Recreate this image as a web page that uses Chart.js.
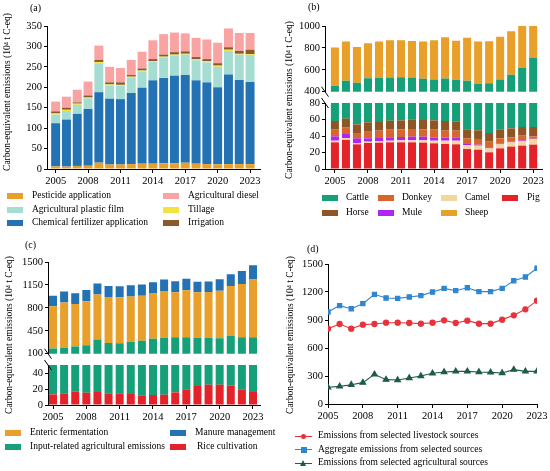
<!DOCTYPE html>
<html>
<head>
<meta charset="utf-8">
<script src="https://cdn.jsdelivr.net/npm/chart.js@4.4.0/dist/chart.umd.min.js"></script>
<style>
body{margin:0;width:550px;height:471px;position:relative;background:#fff;overflow:hidden;font-family:"Liberation Serif","Times New Roman",serif;color:#000}
canvas{position:absolute}
.pl{position:absolute;font-size:10px;line-height:1}
.yt{position:absolute;font-size:9.5px;white-space:nowrap;line-height:1;transform:translate(-50%,-50%) rotate(-90deg)}
.lg{position:absolute;font-size:9.5px;white-space:nowrap;line-height:1}
.sw{position:absolute;width:16px;height:6px}
</style>
</head>
<body>
<canvas id="ca" width="275" height="195" style="left:0;top:0;width:275px;height:195px"></canvas>
<canvas id="cb1" width="275" height="100" style="left:275px;top:0;width:275px;height:100px"></canvas>
<canvas id="cb2" width="275" height="102" style="left:275px;top:93px;width:275px;height:102px"></canvas>
<canvas id="cc1" width="275" height="126" style="left:0;top:236px;width:275px;height:126px"></canvas>
<canvas id="cc2" width="275" height="76" style="left:0;top:355px;width:275px;height:76px"></canvas>
<canvas id="cd" width="275" height="190" style="left:275px;top:240px;width:275px;height:190px"></canvas>

<div class="pl" style="left:30px;top:3px">(a)</div>
<div class="pl" style="left:308px;top:2px">(b)</div>
<div class="pl" style="left:25px;top:240px">(c)</div>
<div class="pl" style="left:307px;top:244px">(d)</div>

<div class="yt" style="left:8px;top:92px">Carbon-equivalent emissions (10⁴ t C-eq)</div>
<div class="yt" style="left:290px;top:100px">Carbon-equivalent emissions (10⁴ t C-eq)</div>
<div class="yt" style="left:10px;top:335px">Carbon-equivalent emissions (10⁴ t C-eq)</div>
<div class="yt" style="left:291px;top:335px">Carbon-equivalent emissions (10⁴ t C-eq)</div>

<div id="legends"></div>

<script>
// years and x ticks
const years = [2005, 2006, 2007, 2008, 2009, 2010, 2011, 2012, 2013, 2014, 2015, 2016, 2017, 2018, 2019, 2020, 2021, 2022, 2023];
const xTickYears = [2005, 2008, 2011, 2014, 2017, 2020, 2023];

// (a) agricultural inputs
const pesticide   = [6.5, 6, 7.5, 8, 15.5, 11, 11, 12, 13, 13, 14, 14, 15.5, 13, 12, 11.5, 12, 12, 12];
const fertilizer  = [105.5, 115, 127.5, 139, 172.5, 161, 160, 174, 186, 204, 209, 214, 214.5, 204, 200, 188.5, 219, 206, 201];
const plasticFilm = [21, 21, 22, 26, 71, 32, 33, 37, 40, 45, 49, 49, 50, 49, 49, 50, 58, 62, 66];
const tillage     = [3, 3, 3, 2, 3, 3, 2, 3, 2, 2, 3, 3, 2, 3, 3, 3, 3, 2, 2];
const irrigation  = [5, 5, 3, 5, 5, 5, 6, 4, 5, 5, 5, 6, 6, 5, 5, 6, 6, 7, 11];
const diesel      = [24, 27, 31, 34, 35, 38, 35, 37, 41, 46, 50, 48, 44, 47, 48, 50, 46, 44, 41];
const aTicks = [0, 50, 100, 150, 200, 250, 300, 350];

// (b) livestock
const pig    = [32.3, 35.2, 29.9, 31.5, 31.9, 32.3, 32.3, 32.3, 31.9, 31.1, 30.3, 29.9, 24.2, 23.4, 20.2, 25, 27.1, 28.3, 29.5];
const camel  = [2, 2.4, 1.6, 1.6, 1.6, 2, 2.4, 2.4, 2.8, 3.2, 4, 4.4, 4.9, 4.9, 4.8, 4.9, 5.2, 5.2, 6.5];
const mule   = [5.3, 4.8, 5.7, 4.1, 4.1, 4.1, 4.1, 4.5, 4.5, 3.7, 3.7, 3.7, 1.2, 1.2, 1.3, 0.8, 0.8, 1.2, 0.8];
const donkey = [8.1, 7.7, 6.4, 8.8, 8.9, 9.3, 9.3, 9.3, 8.9, 9.7, 8.5, 8.5, 6.9, 6.9, 6.8, 6.5, 5.3, 5.7, 2.8];
const horse  = [10.5, 10.9, 10.5, 10.6, 10.5, 10.9, 10.9, 11.3, 11.3, 11.3, 11.7, 10.9, 10.5, 10.5, 10.5, 10.5, 10.9, 10.5, 11.3];
const cattle = [396, 439, 427, 467, 467, 471, 474, 470, 459, 453, 463, 452, 452, 425, 434, 464, 505, 566, 656];
const sheep  = [350, 358, 326, 319, 334, 340, 337, 334, 340, 358, 376, 355, 394, 386, 383, 391, 398, 397, 400];
const bTopTicks = [400, 600, 800, 1000];
const bLowTicks = [0, 20, 40, 60, 80];

// (c) by source
const rice          = [13.3, 14.2, 17.1, 15.4, 16.3, 14.2, 14.2, 13.8, 11.7, 12.5, 12.9, 15.8, 19.2, 23.8, 25.4, 25.4, 24.6, 19.2, 16.3];
const inputRelated  = [165, 177, 194, 214, 302, 250, 247, 267, 287, 315, 330, 334, 332, 321, 317, 309, 344, 333, 333];
const enteric       = [646, 692, 648, 672, 684, 700, 699, 692, 686, 693, 714, 687, 717, 694, 698, 725, 764, 813, 883];
const manure        = [161, 166, 162, 171, 171, 171, 171, 171, 172, 171, 176, 171, 176, 161, 161, 176, 182, 196, 217];
const cTopTicks = [100, 450, 800, 1150, 1500];
const cLowTicks = [0, 10, 20, 30, 40, 50];

// (d) totals
const livestockTotal    = [807, 857, 807, 850, 857, 871, 871, 868, 861, 871, 896, 868, 893, 861, 861, 904, 950, 1014, 1107];
const aggregateTotal    = [986, 1054, 1021, 1075, 1175, 1136, 1132, 1146, 1161, 1200, 1239, 1214, 1246, 1204, 1204, 1239, 1321, 1361, 1454];
const agriculturalTotal = [179, 189, 207, 229, 318, 261, 257, 279, 300, 329, 343, 350, 350, 343, 339, 332, 368, 350, 350];
const dTicks = [0, 300, 600, 900, 1200, 1500];

const C = {
  orange: "#E9A02B", blue: "#2272B4", teal: "#A6DDD3", yellow: "#F2E43F",
  irrig: "#8B5A2B", pink: "#F9A3A3", green: "#16A07A", donkey: "#D8652C",
  camel: "#EFD9A0", red: "#E3222A", horse: "#8E5624", mule: "#B026F0",
  dRed: "#E8323A", dBlue: "#2E86D0", dGreen: "#1F5B47"
};
const tickFont = { family: "Liberation Serif", size: 10.5 };

// slanted mark where an axis is broken
const breakMark = {
  id: "breakMark",
  afterDraw(chart, args, opts) {
    if (!opts.at) return;
    const { ctx, chartArea } = chart;
    const y = opts.at === "bottom" ? chartArea.bottom : chartArea.top;
    const x = chartArea.left;
    ctx.save();
    ctx.strokeStyle = "#000";
    ctx.lineWidth = 1;
    ctx.beginPath();
    ctx.moveTo(x - 3.5, y - 5);
    ctx.lineTo(x + 3.5, y + 5);
    ctx.stroke();
    ctx.restore();
  }
};

function yScale(ticks, width) {
  return {
    stacked: true, min: ticks[0], max: ticks[ticks.length - 1],
    afterBuildTicks: s => { s.ticks = ticks.map(v => ({ value: v })); },
    afterFit: s => { s.width = width; },
    grid: { drawOnChartArea: false, tickLength: 3, color: "#000" },
    border: { color: "#000", width: 1 },
    ticks: { font: tickFont, color: "#000", padding: 2, callback: v => String(v) }
  };
}

function xScale(xmin, xmax, show, height) {
  return {
    type: "linear", stacked: true, min: xmin, max: xmax, display: show,
    offset: false,
    afterBuildTicks: s => { s.ticks = xTickYears.map(v => ({ value: v })); },
    afterFit: s => { s.height = height; },
    grid: { drawOnChartArea: false, offset: false, tickLength: 4, color: "#000" },
    border: { color: "#000", width: 1 },
    ticks: { font: tickFont, color: "#000", padding: 2, maxRotation: 0, autoSkip: false, callback: v => String(v) }
  };
}

function barChart(id, sets, o) {
  return new Chart(document.getElementById(id), {
    type: "bar",
    data: {
      labels: years,
      datasets: sets.map(s => ({
        label: s[0], data: s[1], backgroundColor: s[2],
        borderWidth: 0, barPercentage: o.bar, categoryPercentage: 1
      }))
    },
    options: {
      responsive: false, animation: false,
      layout: { padding: o.pad },
      plugins: { legend: { display: false }, tooltip: { enabled: false }, breakMark: { at: o.brk } },
      scales: { x: xScale(o.xmin, o.xmax, o.showX, o.xh), y: yScale(o.ticks, o.yw) }
    },
    plugins: [breakMark]
  });
}

// (a)
barChart("ca", [
  ["Pesticide application", pesticide, C.orange],
  ["Chemical fertilizer application", fertilizer, C.blue],
  ["Agricultural plastic film", plasticFilm, C.teal],
  ["Tillage", tillage, C.yellow],
  ["Irrigation", irrigation, C.irrig],
  ["Agricultural diesel", diesel, C.pink]
], { bar: 0.83, xmin: 2004.2, xmax: 2023.92, showX: true, xh: 26, ticks: aTicks, yw: 47,
     pad: { top: 26, right: 15, left: 0, bottom: 0 } });

// (b)
const bSets = [
  ["Pig", pig, C.red],
  ["Camel", camel, C.camel],
  ["Mule", mule, C.mule],
  ["Donkey", donkey, C.donkey],
  ["Horse", horse, C.horse],
  ["Cattle", cattle, C.green],
  ["Sheep", sheep, C.orange]
];
barChart("cb1", bSets, { bar: 0.73, xmin: 2004.1, xmax: 2023.8, showX: false, xh: 0, ticks: bTopTicks, yw: 50,
     pad: { top: 26, right: 8, left: 0, bottom: 8 }, brk: "bottom" });
barChart("cb2", bSets, { bar: 0.73, xmin: 2004.1, xmax: 2023.8, showX: true, xh: 26, ticks: bLowTicks, yw: 50,
     pad: { top: 10, right: 8, left: 0, bottom: 0 }, brk: "top" });

// (c)
const cSets = [
  ["Rice cultivation", rice, C.red],
  ["Input-related agricultural emissions", inputRelated, C.green],
  ["Enteric fermentation", enteric, C.orange],
  ["Manure management", manure, C.blue]
];
barChart("cc1", cSets, { bar: 0.72, xmin: 2004.55, xmax: 2023.63, showX: false, xh: 0, ticks: cTopTicks, yw: 48,
     pad: { top: 26, right: 15, left: 0, bottom: 8 }, brk: "bottom" });
barChart("cc2", cSets, { bar: 0.72, xmin: 2004.55, xmax: 2023.63, showX: true, xh: 26, ticks: cLowTicks, yw: 48,
     pad: { top: 10, right: 15, left: 0, bottom: 0 }, brk: "top" });

// (d)
const dSets = [
  ["Emissions from selected livestock sources", livestockTotal, C.dRed, "circle", 2.6],
  ["Aggregate emissions from selected sources", aggregateTotal, C.dBlue, "rect", 3],
  ["Emissions from selected agricultural sources", agriculturalTotal, C.dGreen, "triangle", 3.3]
];
new Chart(document.getElementById("cd"), {
  type: "line",
  data: {
    labels: years,
    datasets: dSets.map(s => ({
      label: s[0], data: s[1], borderColor: s[2], backgroundColor: s[2],
      pointStyle: s[3], pointRadius: s[4], borderWidth: 1.1, tension: 0
    }))
  },
  options: {
    responsive: false, animation: false,
    layout: { padding: { top: 24, right: 13, left: 0, bottom: 0 } },
    plugins: { legend: { display: false }, tooltip: { enabled: false } },
    scales: {
      x: Object.assign(xScale(2005, 2023, true, 26), { stacked: false }),
      y: Object.assign(yScale(dTicks, 53), { stacked: false })
    }
  }
});

// legends
const legBox = document.getElementById("legends");
function addSwatch(color, x, y) {
  const d = document.createElement("div");
  d.className = "sw";
  d.style.left = x + "px"; d.style.top = (y - 3) + "px"; d.style.background = color;
  legBox.appendChild(d);
}
function addText(text, x, y) {
  const d = document.createElement("div");
  d.className = "lg";
  d.textContent = text;
  d.style.left = x + "px"; d.style.top = (y - 5) + "px";
  legBox.appendChild(d);
}
const boxLegends = [
  ["Pesticide application", C.orange, 7, 32, 196],
  ["Agricultural plastic film", C.teal, 7, 32, 209.5],
  ["Chemical fertilizer application", C.blue, 7, 32, 223],
  ["Agricultural diesel", C.pink, 163, 188, 196],
  ["Tillage", C.yellow, 163, 188, 209.5],
  ["Irrigation", C.irrig, 163, 188, 223],
  ["Cattle", C.green, 322, 346, 197.5],
  ["Donkey", C.donkey, 378, 402, 197.5],
  ["Camel", C.camel, 441, 465, 197.5],
  ["Pig", C.red, 502, 527, 197.5],
  ["Horse", C.horse, 322, 346, 212.5],
  ["Mule", C.mule, 378, 402, 212.5],
  ["Sheep", C.orange, 441, 465, 212.5],
  ["Enteric fermentation", C.orange, 5, 30, 432.5],
  ["Input-related agricultural emissions", C.green, 5, 30, 446.5],
  ["Manure management", C.blue, 170, 195, 432.5],
  ["Rice cultivation", C.red, 170, 197, 446.5]
];
boxLegends.forEach(l => { addSwatch(l[1], l[2], l[4]); addText(l[0], l[3], l[4]); });

const lineRows = [436, 449.5, 463];
dSets.forEach((s, i) => {
  const y = lineRows[i];
  const ln = document.createElement("div");
  ln.style.cssText = `position:absolute;left:295px;top:${y - 0.5}px;width:17px;height:1px;background:${s[2]}`;
  legBox.appendChild(ln);
  const m = document.createElement("div");
  if (s[3] === "circle") {
    m.style.cssText = `position:absolute;left:301px;top:${y - 2.5}px;width:5px;height:5px;border-radius:50%;background:${s[2]}`;
  } else if (s[3] === "rect") {
    m.style.cssText = `position:absolute;left:300.5px;top:${y - 3}px;width:6px;height:6px;background:${s[2]}`;
  } else {
    m.style.cssText = `position:absolute;left:300px;top:${y - 3}px;width:0;height:0;border-left:3.5px solid transparent;border-right:3.5px solid transparent;border-bottom:6px solid ${s[2]}`;
  }
  legBox.appendChild(m);
  addText(s[0], 318, y);
});
</script>
</body>
</html>
